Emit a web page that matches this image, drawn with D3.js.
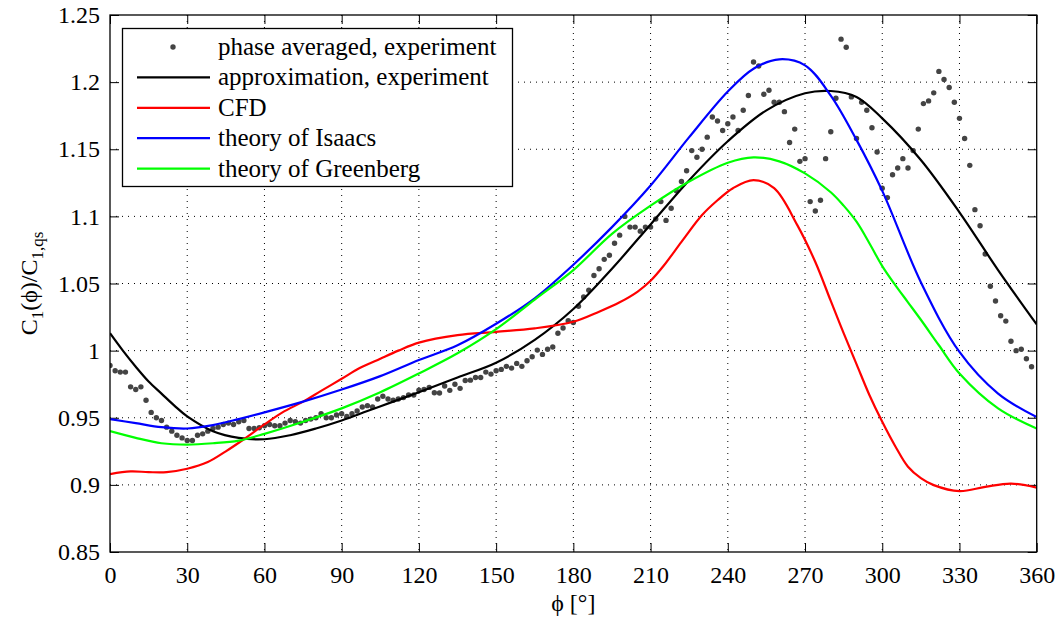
<!DOCTYPE html>
<html>
<head>
<meta charset="utf-8">
<script src="https://cdn.jsdelivr.net/npm/d3@7"></script>
<style>
  html, body { margin: 0; padding: 0; background: #fff; }
  svg { display: block; }
</style>
</head>
<body>
<svg id="chart" width="1061" height="618"></svg>
<script>
// ---------- data ----------
const xTicks = [0, 30, 60, 90, 120, 150, 180, 210, 240, 270, 300, 330, 360];
const yTicks = [0.85, 0.9, 0.95, 1.0, 1.05, 1.1, 1.15, 1.2, 1.25];
const yTickLabels = ["0.85", "0.9", "0.95", "1", "1.05", "1.1", "1.15", "1.2", "1.25"];

const seriesNames = ["phase averaged, experiment", "approximation, experiment", "CFD", "theory of Isaacs", "theory of Greenberg"];
const seriesColors = ["#444444", "#000000", "#ff0000", "#0000ff", "#00ff00"];

// phase averaged experiment: one point every 2 degrees (0..358)
const expPhi = d3.range(0, 360, 2);
const expCl = [
  0.989,0.985,0.984,0.984,0.973,0.971,0.973,0.963,0.954,0.950,
  0.948,0.943,0.940,0.937,0.935,0.933,0.933,0.937,0.938,0.940,
  0.942,0.943,0.945,0.946,0.945,0.947,0.948,0.942,0.942,0.9425,
  0.944,0.945,0.944,0.944,0.946,0.948,0.947,0.946,0.948,0.949,
  0.950,0.953,0.950,0.950,0.952,0.953,0.951,0.953,0.955,0.958,
  0.959,0.958,0.964,0.966,0.964,0.963,0.964,0.965,0.967,0.967,
  0.9706,0.971,0.9726,0.9686,0.9684,0.9736,0.9704,0.975,0.9719,0.9778,
  0.978,0.980,0.980,0.984,0.9825,0.985,0.986,0.9883,0.987,0.9905,
  0.9883,0.9925,0.9954,1.0004,0.9972,1.001,1.0027,1.0129,1.0168,1.0223,
  1.021,1.033,1.040,1.045,1.056,1.061,1.068,1.071,1.080,1.086,
  1.100,1.092,1.092,1.089,1.092,1.092,1.098,1.111,1.097,1.106,
  1.119,1.126,1.134,1.149,1.144,1.150,1.159,1.174,1.171,1.164,
  1.169,1.174,1.164,1.179,1.190,1.215,1.212,1.191,1.194,1.185,
  1.185,1.178,1.155,1.165,1.141,1.143,1.111,1.104,1.112,1.143,
  1.163,1.188,1.232,1.226,1.189,1.158,1.185,1.179,1.166,1.148,
  1.121,1.114,1.131,1.136,1.143,1.136,1.149,1.165,1.184,1.186,
  1.192,1.208,1.202,1.196,1.185,1.173,1.158,1.138,1.105,1.093,
  1.072,1.048,1.037,1.026,1.022,1.007,1.000,1.001,0.994,0.988
];

// approximation, experiment (black)
const approxPhi = [0,5,10,15,20,25,30,40,50,60,70,80,90,100,110,120,135,150,165,180,195,210,225,240,255,270,280,290,300,315,330,345,360];
const approxCl  = [1.013,1.000,0.988,0.977,0.968,0.959,0.951,0.940,0.935,0.934,0.937,0.942,0.948,0.955,0.962,0.969,0.980,0.991,1.008,1.031,1.061,1.094,1.127,1.156,1.179,1.1917,1.1934,1.189,1.173,1.142,1.103,1.060,1.0195];

// CFD (red)
const cfdPhi = [0,8,15,22,30,38,45,52,60,67,75,82,90,97,105,112,120,135,150,165,180,190,198,205,210,215,222,230,236,242,250,258,267,274,280,285,290,295,300,305,310,315,320,330,340,350,360];
const cfdCl  = [0.908,0.910,0.9095,0.9095,0.912,0.917,0.925,0.934,0.945,0.954,0.962,0.970,0.979,0.987,0.994,1.000,1.006,1.0116,1.014,1.0166,1.0215,1.029,1.036,1.044,1.052,1.063,1.081,1.101,1.112,1.121,1.127,1.121,1.0935,1.066,1.037,1.013,0.990,0.967,0.947,0.929,0.9135,0.905,0.8998,0.8953,0.8985,0.901,0.898];

// theory of Isaacs (blue)
const isaacsPhi = [0,10,20,30,40,50,60,75,90,105,120,135,150,165,180,195,210,225,240,250,260,270,280,290,300,315,330,345,360];
const isaacsCl  = [0.949,0.946,0.943,0.942,0.9445,0.949,0.954,0.962,0.971,0.981,0.993,1.004,1.020,1.039,1.064,1.092,1.123,1.159,1.193,1.210,1.217,1.2125,1.190,1.157,1.119,1.051,0.999,0.968,0.9505];

// theory of Greenberg (green)
const greenPhi = [0,10,20,30,40,50,60,75,90,105,120,135,150,165,180,195,210,225,240,250,260,270,280,285,290,295,300,305,310,315,322,330,345,360];
const greenCl  = [0.940,0.935,0.931,0.930,0.931,0.933,0.938,0.947,0.957,0.969,0.983,0.998,1.016,1.038,1.060,1.087,1.108,1.126,1.140,1.144,1.141,1.132,1.118,1.108,1.096,1.080,1.063,1.049,1.036,1.023,1.004,0.983,0.957,0.942];

// ---------- layout ----------
const FAMILY = "'Liberation Serif', 'Times New Roman', Times, 'DejaVu Serif', serif";
const svg = d3.select("#chart").attr("font-family", FAMILY).style("font-family", FAMILY);
const margin = { left: 110, top: 15, right: 1061 - 1036.7, bottom: 618 - 552 };
const W = 1061 - margin.left - margin.right;
const H = 618 - margin.top - margin.bottom;

const x = d3.scaleLinear().domain([0, 360]).range([margin.left, margin.left + W]);
const y = d3.scaleLinear().domain([0.85, 1.25]).range([margin.top + H, margin.top]);

const FONT = 24;

// grid (dotted)
const grid = svg.append("g").attr("stroke", "#000").attr("stroke-width", 1).attr("stroke-dasharray", "1,5");
grid.selectAll("line.v").data(xTicks.slice(1, -1)).enter().append("line")
  .attr("x1", d => x(d)).attr("x2", d => x(d)).attr("y1", y(1.25)).attr("y2", y(0.85));
grid.selectAll("line.h").data(yTicks.slice(1, -1)).enter().append("line")
  .attr("x1", x(0)).attr("x2", x(360)).attr("y1", d => y(d)).attr("y2", d => y(d));

// axes with inward ticks on all sides
const tickLen = 9;
const axB = d3.axisBottom(x).tickValues(xTicks).tickSize(-tickLen).tickPadding(14).tickFormat(d3.format("d"));
const axT = d3.axisTop(x).tickValues(xTicks).tickSize(-tickLen).tickFormat("");
const axL = d3.axisLeft(y).tickValues(yTicks).tickSize(-tickLen).tickPadding(10).tickFormat((d, i) => yTickLabels[i]);
const axR = d3.axisRight(y).tickValues(yTicks).tickSize(-tickLen).tickFormat("");

function styleAxis(g) {
  g.attr("font-family", FAMILY).style("font-family", FAMILY);
  g.select(".domain").remove();
  g.selectAll(".tick line").attr("stroke", "#000").attr("stroke-width", 1);
  g.selectAll("text").style("font-size", FONT + "px").style("font-family", FAMILY).attr("fill", "#000");
}
svg.append("g").attr("transform", `translate(0,${y(0.85)})`).call(axB).call(styleAxis);
svg.append("g").attr("transform", `translate(0,${y(1.25)})`).call(axT).call(styleAxis);
svg.append("g").attr("transform", `translate(${x(0)},0)`).call(axL).call(styleAxis);
svg.append("g").attr("transform", `translate(${x(360)},0)`).call(axR).call(styleAxis);

// lines
const clipId = "plotclip";
svg.append("clipPath").attr("id", clipId).append("rect")
  .attr("x", x(0)).attr("y", y(1.25)).attr("width", x(360) - x(0)).attr("height", y(0.85) - y(1.25));

const lineGen = d3.line().x(d => x(d[0])).y(d => y(d[1])).curve(d3.curveCatmullRom.alpha(0.5));
const plot = svg.append("g").attr("clip-path", `url(#${clipId})`);

// experimental dots
plot.selectAll("circle.exp").data(expPhi.map((p, i) => [p, expCl[i]])).enter().append("circle")
  .attr("cx", d => x(d[0])).attr("cy", d => y(d[1])).attr("r", 2.7).attr("fill", seriesColors[0]);

const lineSets = [
  [approxPhi, approxCl, seriesColors[1]],
  [cfdPhi, cfdCl, seriesColors[2]],
  [isaacsPhi, isaacsCl, seriesColors[3]],
  [greenPhi, greenCl, seriesColors[4]]
];
lineSets.forEach(([ph, cl, col]) => {
  plot.append("path").datum(ph.map((p, i) => [p, cl[i]]))
    .attr("d", lineGen).attr("fill", "none").attr("stroke", col).attr("stroke-width", 2.2);
});

// box
svg.append("rect").attr("x", x(0)).attr("y", y(1.25)).attr("width", x(360) - x(0)).attr("height", y(0.85) - y(1.25))
  .attr("fill", "none").attr("stroke", "#000").attr("stroke-width", 1.3);

// axis labels
svg.append("text").attr("x", (x(0) + x(360)) / 2).attr("y", 611).attr("text-anchor", "middle")
  .style("font-family", FAMILY).style("font-size", FONT + "px").text("ϕ [°]");

const yl = svg.append("text").attr("transform", `translate(37,${(y(0.85) + y(1.25)) / 2}) rotate(-90)`)
  .attr("text-anchor", "middle").style("font-family", FAMILY).style("font-size", FONT + "px");
yl.append("tspan").text("C");
yl.append("tspan").attr("dy", 6).style("font-size", "17px").text("1");
yl.append("tspan").attr("dy", -6).text("(ϕ)/C");
yl.append("tspan").attr("dy", 6).style("font-size", "17px").text("1,qs");

// legend
const lg = svg.append("g");
lg.append("rect").attr("x", 122.5).attr("y", 28.5).attr("width", 390).attr("height", 158)
  .attr("fill", "#fff").attr("stroke", "#000").attr("stroke-width", 1.3);
seriesNames.forEach((name, i) => {
  const cy = 47 + i * 30.4;
  if (i === 0) {
    lg.append("circle").attr("cx", 173).attr("cy", cy).attr("r", 2.7).attr("fill", seriesColors[0]);
  } else {
    lg.append("line").attr("x1", 137).attr("x2", 210).attr("y1", cy).attr("y2", cy)
      .attr("stroke", seriesColors[i]).attr("stroke-width", 2.2);
  }
  lg.append("text").attr("x", 218).attr("y", cy + 8)
    .style("font-family", FAMILY).style("font-size", "25px").text(name);
});
</script>
</body>
</html>
